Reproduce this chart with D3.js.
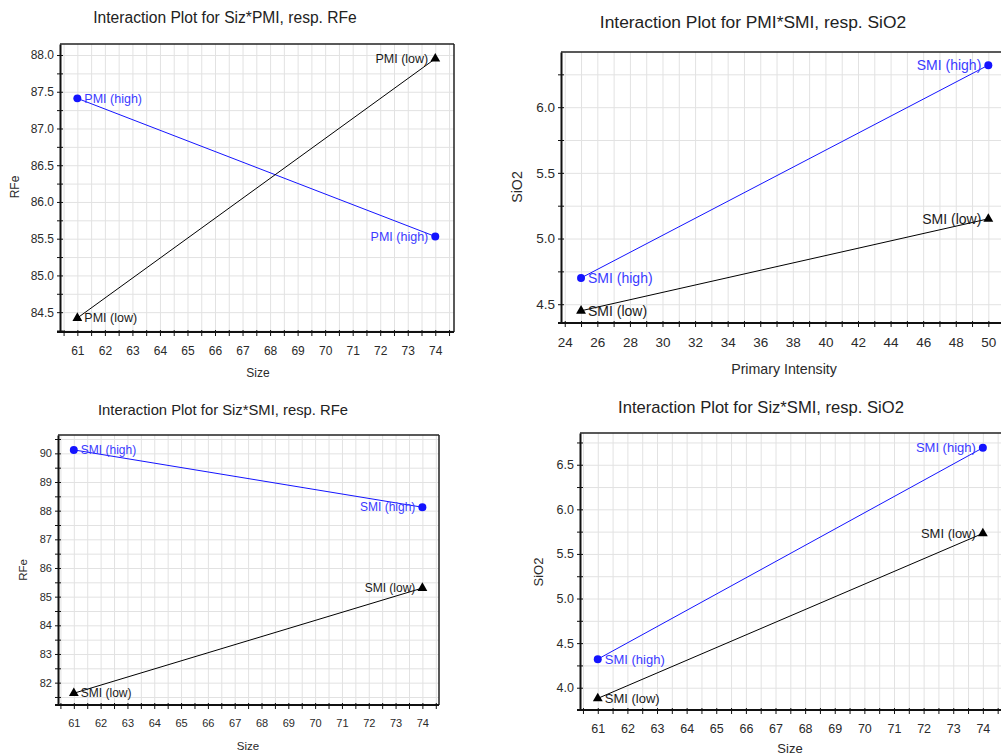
<!DOCTYPE html>
<html>
<head>
<meta charset="utf-8">
<script src="https://cdn.jsdelivr.net/npm/d3@7"></script>
<style>
  body { margin: 0; background: #fff; }
  svg { display: block; font-family: "Liberation Sans", Arial, sans-serif; }
  .grid line { stroke: #e2e2e2; stroke-width: 1; }
  .grid path { display: none; }
  .axis path { stroke: #111; stroke-width: 2; }
  .axis line { stroke: #111; stroke-width: 1; }
  .axis text { fill: #2a2a2a; }
</style>
</head>
<body>
<div id="target"></div>
<script>
// factor levels on the x axes
const sizeLevels = [61, 74];
const intensityLevels = [25, 50];

// responses
const rfePmiHigh = [87.41, 85.53];
const rfePmiLow = [84.42, 87.95];
const sio2PmiSmiHigh = [4.70, 6.32];
const sio2PmiSmiLow = [4.45, 5.15];
const rfeSmiHigh = [90.12, 88.12];
const rfeSmiLow = [81.63, 85.30];
const sio2SizeSmiHigh = [4.32, 6.69];
const sio2SizeSmiLow = [3.88, 5.73];

const titles = [
  "Interaction Plot for Siz*PMI, resp. RFe",
  "Interaction Plot for PMI*SMI, resp. SiO2",
  "Interaction Plot for Siz*SMI, resp. RFe",
  "Interaction Plot for Siz*SMI, resp. SiO2"
];
const xTitles = ["Size", "Primary Intensity", "Size", "Size"];
const yTitles = ["RFe", "SiO2", "RFe", "SiO2"];
const highLabels = ["PMI (high)", "SMI (high)", "SMI (high)", "SMI (high)"];
const lowLabels = ["PMI (low)", "SMI (low)", "SMI (low)", "SMI (low)"];

const svg = d3.select("#target").append("svg")
  .attr("width", 1001)
  .attr("height", 756);

// layout of each panel (pixels) and its scale settings
const panels = [
  {x0: 60, x1: 454, y0: 44, y1: 332, xd: [60.37, 74.68], yd: [84.23, 88.15],
   xs: sizeLevels, hi: rfePmiHigh, lo: rfePmiLow,
   xGrid: 0.5, xTick: 0.5, xLab: 1, yGrid: 0.25, yTick: 0.25, yLab: 0.5, yFmt: ".1f",
   fs: 12, tfs: 15.6, lfs: 12.5, afs: 12, title: [225, 23], xt: [258, 377], yt: [15, 187]},
  {x0: 561, x1: 1003, y0: 52, y1: 323, xd: [23.77, 50.9], yd: [4.357, 6.42],
   xs: intensityLevels, hi: sio2PmiSmiHigh, lo: sio2PmiSmiLow,
   xGrid: 1, xTick: 1, xLab: 2, yGrid: 0.25, yTick: 0.25, yLab: 0.5, yFmt: ".1f",
   fs: 13.5, tfs: 17.4, lfs: 14, afs: 14.2, title: [753, 28], xt: [784, 374], yt: [517, 187]},
  {x0: 58, x1: 439, y0: 435, y1: 705, xd: [60.41, 74.62], yd: [81.22, 90.64],
   xs: sizeLevels, hi: rfeSmiHigh, lo: rfeSmiLow,
   xGrid: 0.5, xTick: 0.5, xLab: 1, yGrid: 0.5, yTick: 0.5, yLab: 1, yFmt: "d",
   fs: 11, tfs: 14.8, lfs: 12, afs: 11.5, title: [223, 415], xt: [248, 750], yt: [23, 570]},
  {x0: 580, x1: 1003, y0: 433, y1: 710, xd: [60.4, 74.68], yd: [3.75, 6.856],
   xs: sizeLevels, hi: sio2SizeSmiHigh, lo: sio2SizeSmiLow,
   xGrid: 0.5, xTick: 0.5, xLab: 1, yGrid: 0.25, yTick: 0.25, yLab: 0.5, yFmt: ".1f",
   fs: 12.5, tfs: 16.6, lfs: 13, afs: 13, title: [761, 413], xt: [790, 753], yt: [538, 572]}
];

function steps(domain, step) {
  const start = Math.ceil(domain[0] / step - 1e-9);
  const end = Math.floor(domain[1] / step + 1e-9);
  return d3.range(start, end + 1).map(i => +(i * step).toFixed(4));
}
function isMult(v, step) {
  return Math.abs(v / step - Math.round(v / step)) < 1e-6;
}

panels.forEach((p, i) => {
  const w = p.x1 - p.x0, h = p.y1 - p.y0;
  const x = d3.scaleLinear().domain(p.xd).range([0, w]);
  const y = d3.scaleLinear().domain(p.yd).range([h, 0]);
  const g = svg.append("g").attr("transform", `translate(${p.x0},${p.y0})`);

  // grid
  g.append("g").attr("class", "grid")
    .attr("transform", `translate(0,${h})`)
    .call(d3.axisBottom(x).tickValues(steps(p.xd, p.xGrid)).tickSize(-h).tickFormat(""));
  g.append("g").attr("class", "grid")
    .call(d3.axisLeft(y).tickValues(steps(p.yd, p.yGrid)).tickSize(-w).tickFormat(""));

  // frame top / right
  g.append("line").attr("x1", 0).attr("x2", w).attr("y1", 0).attr("y2", 0)
    .attr("stroke", "#222").attr("stroke-width", 1.5);
  g.append("line").attr("x1", w).attr("x2", w).attr("y1", 0).attr("y2", h)
    .attr("stroke", "#222").attr("stroke-width", 1.5);

  // axes
  const xa = g.append("g").attr("class", "axis")
    .attr("transform", `translate(0,${h})`)
    .call(d3.axisBottom(x).tickValues(steps(p.xd, p.xTick)).tickSize(4).tickSizeOuter(0)
      .tickPadding(10)
      .tickFormat(v => isMult(v, p.xLab) ? d3.format("d")(v) : ""));
  xa.selectAll(".tick line").attr("y1", -2);
  xa.select(".domain").attr("d", `M-3,0H${w}`);
  xa.selectAll("text").style("font-size", p.fs + "px");

  const ya = g.append("g").attr("class", "axis")
    .call(d3.axisLeft(y).tickValues(steps(p.yd, p.yTick)).tickSize(3).tickSizeOuter(0)
      .tickPadding(3)
      .tickFormat(v => isMult(v, p.yLab) ? d3.format(p.yFmt)(v) : ""));
  ya.selectAll(".tick line").attr("x1", 3);
  ya.selectAll("text").style("font-size", p.fs + "px");

  // series lines and markers
  const line = d3.line().x((d, j) => x(p.xs[j])).y(d => y(d));
  const series = [
    {vals: p.hi, color: "#1414ff", text: "#3b3bff", label: highLabels[i], shape: d3.symbolCircle, size: 50},
    {vals: p.lo, color: "#000", text: "#1a1a1a", label: lowLabels[i], shape: d3.symbolTriangle, size: 42}
  ];
  series.forEach(s => {
    g.append("path").datum(s.vals).attr("d", line)
      .attr("fill", "none").attr("stroke", s.color).attr("stroke-width", 1);
    g.selectAll(null).data(s.vals).join("path")
      .attr("transform", (d, j) => `translate(${x(p.xs[j])},${y(d)})`)
      .attr("d", d3.symbol().type(s.shape).size(s.size))
      .attr("fill", s.color);
    g.selectAll(null).data(s.vals).join("text")
      .attr("x", (d, j) => x(p.xs[j]) + (j === 0 ? 7 : -7))
      .attr("y", d => y(d))
      .attr("dy", "0.35em")
      .attr("text-anchor", (d, j) => j === 0 ? "start" : "end")
      .style("font-size", p.lfs + "px")
      .attr("fill", s.text)
      .text(s.label);
  });

  // titles
  svg.append("text").attr("x", p.title[0]).attr("y", p.title[1])
    .attr("text-anchor", "middle").style("font-size", p.tfs + "px").attr("fill", "#222")
    .text(titles[i]);
  svg.append("text").attr("x", p.xt[0]).attr("y", p.xt[1])
    .attr("text-anchor", "middle").style("font-size", p.afs + "px").attr("fill", "#2a2a2a")
    .text(xTitles[i]);
  svg.append("text")
    .attr("transform", `translate(${p.yt[0]},${p.yt[1]}) rotate(-90)`)
    .attr("text-anchor", "middle").attr("dy", "0.35em")
    .style("font-size", p.afs + "px").attr("fill", "#2a2a2a")
    .text(yTitles[i]);
});
</script>
</body>
</html>
